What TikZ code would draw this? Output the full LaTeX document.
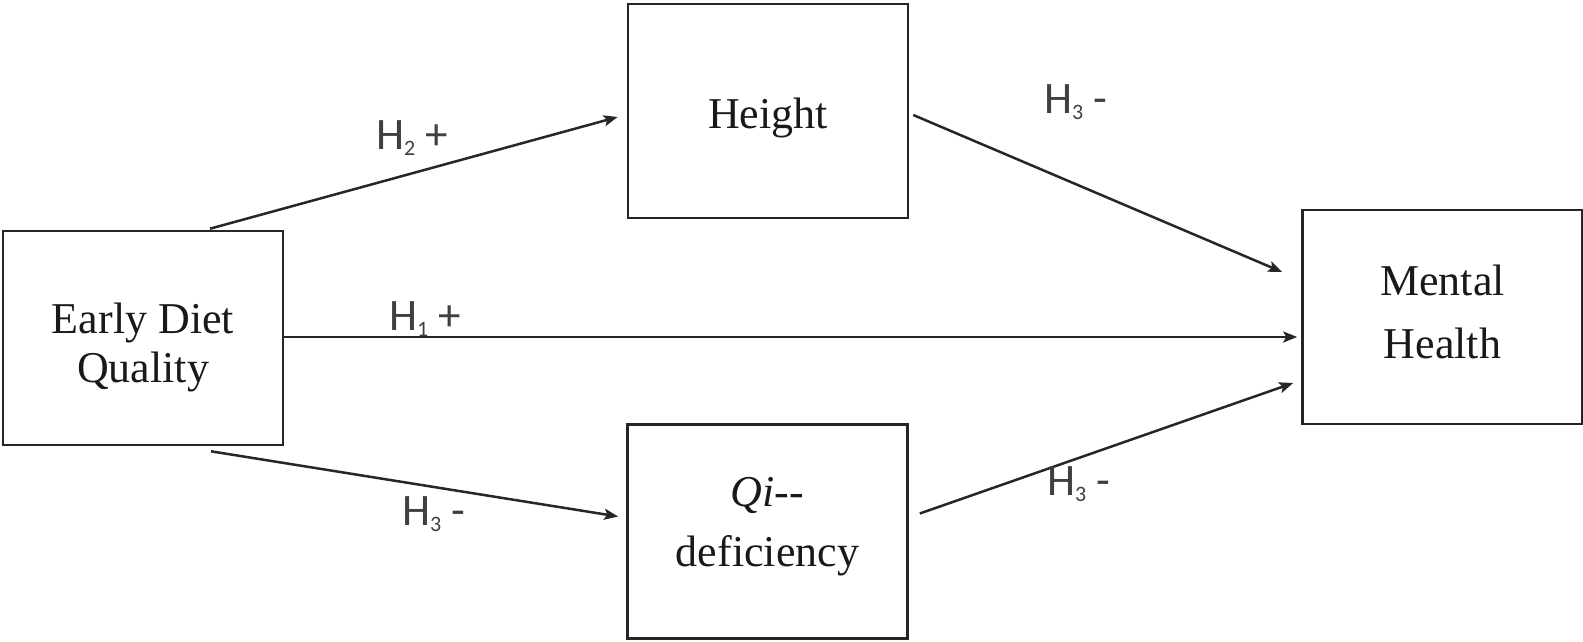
\documentclass[tikz,border=0pt]{standalone}
\usepackage{fontspec}
\setmainfont{Liberation Serif}
\newfontfamily\lblfont{Carlito}
\usetikzlibrary{arrows.meta,calc}
\newcommand{\hsub}[1]{\raisebox{-6pt}{\fontsize{22}{22}\selectfont #1}}
\begin{document}
\begin{tikzpicture}[x=1pt,y=-1pt,
  box/.style={draw=black!85, line width=2.6pt, minimum width=280pt, minimum height=214pt, inner sep=0pt},
  boxtext/.style={font=\fontsize{44}{49}\selectfont, align=center, inner sep=0pt, text=black!90},
  hyp/.style={font=\lblfont\fontsize{45}{54}\selectfont, inner sep=0pt, anchor=base west, text=black!75},
  arr/.style={line width=2.5pt, draw=black!85, -{Stealth[length=14pt,width=11pt,inset=3pt]}}
]
\useasboundingbox (0,0) rectangle (1583,641);
% boxes
\node[box] (edq) at (143,338) {};
\node[box] (height) at (768,111) {};
\node[box] (mh) at (1442.5,317) {};
\node[box] (qi) at (767.5,531.5) {};
% box texts
\node[boxtext] (tedq) at (143,347) {Early Diet\\Quality};
\node[boxtext] (theight) at (768,118) {Height};
\node[boxtext, font=\fontsize{44}{63}\selectfont] (tmh) at (1442.5,311.5) {Mental\\Health};
\node[boxtext, font=\fontsize{44}{60}\selectfont] (tqi) at (767.5,527) {\textit{Qi}{-}{-}\\deficiency};
% connectors
\coordinate (h1end) at ($(mh.west)+(-4,20)$);
\draw[arr] ($(edq.north)+(67,-1)$) -- ($(height.west)+(-9,6)$);
\draw[arr] ($(height.east)+(4,4)$) -- ($(mh.west)+(-19,-45)$);
\draw[arr] (edq.east |- h1end) -- (h1end);
\draw[arr] ($(edq.south)+(68,5)$) -- ($(qi.west)+(-8,-15)$);
\draw[arr] ($(qi.east)+(11,-18)$) -- ($(mh.west)+(-8,66)$);
% labels
\node[hyp] (l2) at (376,149) {H\hsub{2} +};
\node[hyp] (l3a) at (1044,113) {H\hsub{3} -};
\node[hyp] (l1) at (389,330) {H\hsub{1} +};
\node[hyp] (l3b) at (402,525) {H\hsub{3} -};
\node[hyp] (l3c) at (1047,495) {H\hsub{3} -};
\end{tikzpicture}
\end{document}
